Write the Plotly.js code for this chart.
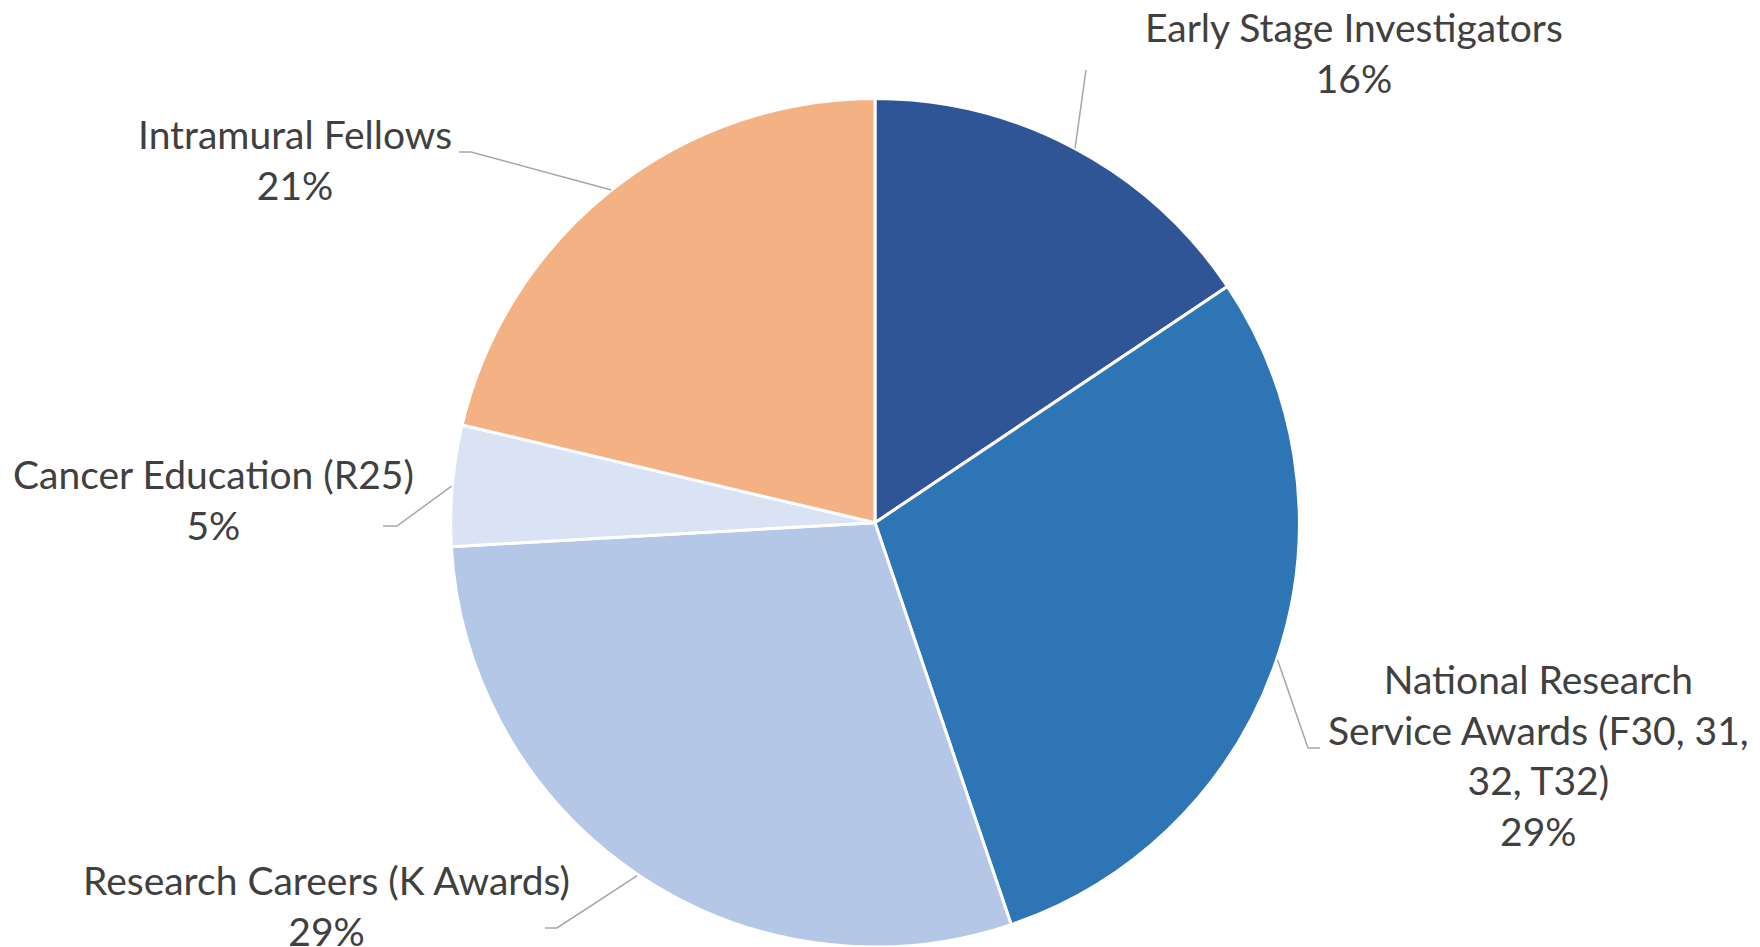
<!DOCTYPE html>
<html>
<head>
<meta charset="utf-8">
<script src="https://cdn.plot.ly/plotly-3.0.1.min.js"></script>
<style>html,body{margin:0;padding:0;background:#fff;}#chart{width:1760px;height:947px;}</style>
</head>
<body>
<div id="chart"></div>
<script>
// ---- data ----
const categories = ['Early Stage Investigators', 'National Research Service Awards (F30, 31, 32, T32)', 'Research Careers (K Awards)', 'Cancer Education (R25)', 'Intramural Fellows'];
const labelLines = ['Early Stage Investigators', 'National Research<br>Service Awards (F30, 31,<br>32, T32)', 'Research Careers (K Awards)', 'Cancer Education (R25)', 'Intramural Fellows'];
const values = [15.6, 29.2, 29.3, 4.6, 21.3];
const colors = ['#2F5597', '#2E75B6', '#B4C7E7', '#DAE3F3', '#F4B183'];

// ---- layout / style (pixels) ----
const W = 1760, H = 947;
const CX = 875, CY = 523.4, R = 425;
const labelPos = [[1354, 52], [1538, 755], [326, 905], [213, 500], [295, 160]];
const leaderBend = [[1086, 70], [1308, 748], [557, 928], [397, 526], [471, 152]];
const leaderEnd = [null, [1320, 748], [545, 928], [383, 526], [459, 152]];
const FONT = 'Lato, "Open Sans", sans-serif';
const FSIZE = 39;
const TXT = '#404040';

const px = x => x / W;
const py = y => 1 - y / H;

const total = values.reduce((a, b) => a + b, 0);
let cum = 0;
const annotations = [];
const shapes = [];
values.forEach((v, i) => {
  const mid = (cum + v / 2) / total * 2 * Math.PI;
  cum += v;
  const ex = CX + R * Math.sin(mid);
  const ey = CY - R * Math.cos(mid);
  const pts = [[ex, ey], leaderBend[i]];
  if (leaderEnd[i]) pts.push(leaderEnd[i]);
  shapes.push({
    type: 'path', xref: 'paper', yref: 'paper',
    path: pts.map((p, k) => (k ? 'L' : 'M') + px(p[0]) + ',' + py(p[1])).join(' '),
    line: {color: '#A6A6A6', width: 1.5}
  });
  annotations.push({
    xref: 'paper', yref: 'paper', x: px(labelPos[i][0]), y: py(labelPos[i][1]),
    xanchor: 'center', yanchor: 'middle', showarrow: false, align: 'center',
    text: labelLines[i] + '<br>' + Math.round(v / total * 100) + '%',
    font: {family: FONT, size: FSIZE, color: TXT}
  });
});

const trace = {
  type: 'pie',
  labels: categories,
  values: values,
  sort: false,
  direction: 'clockwise',
  rotation: 0,
  textinfo: 'none',
  hoverinfo: 'label+percent',
  marker: {colors: colors, line: {color: '#FFFFFF', width: 3}},
  domain: {x: [px(CX - R), px(CX + R)], y: [Math.max(0, py(CY + R)), py(CY - R)]}
};

Plotly.newPlot('chart', [trace], {
  width: W, height: H,
  margin: {l: 0, r: 0, t: 0, b: 0},
  paper_bgcolor: '#FFFFFF',
  showlegend: false,
  annotations: annotations,
  shapes: shapes
}, {displayModeBar: false, staticPlot: true});
</script>
</body>
</html>
